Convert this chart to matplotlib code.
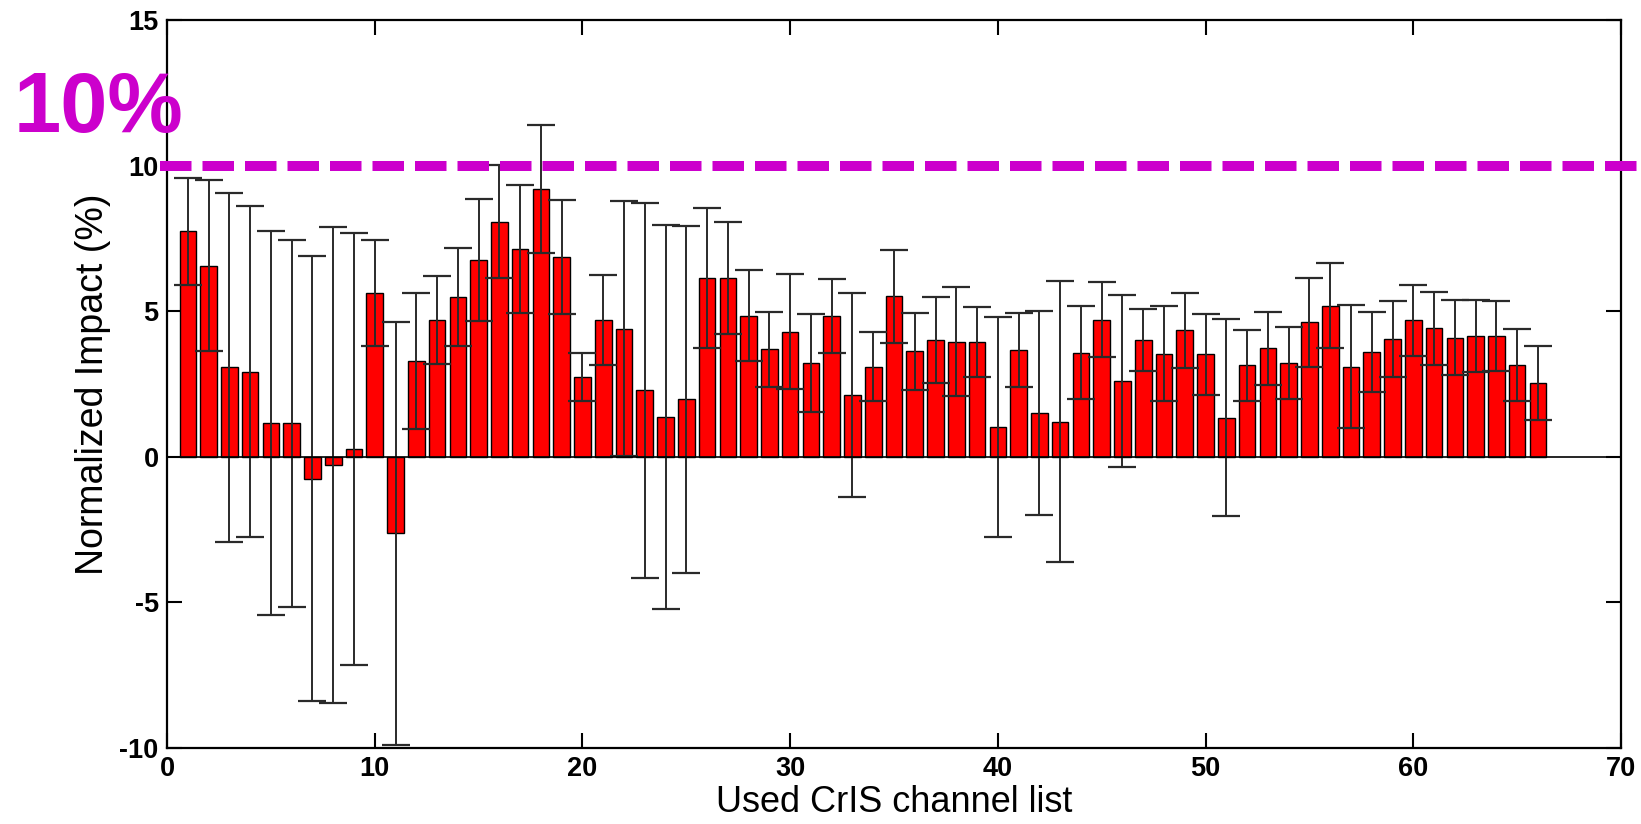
import numpy as np
import matplotlib
matplotlib.use('Agg')
import matplotlib.pyplot as plt
import matplotlib.transforms as mtransforms

plt.rcParams['font.family'] = ['Liberation Sans', 'DejaVu Sans']
plt.rcParams['axes.unicode_minus'] = False

# normalized impact per used CrIS channel
channels = np.arange(1, 67)
impact = [7.74, 6.57, 3.07, 2.92, 1.16, 1.16, -0.75, -0.29, 0.27, 5.63,
          -2.63, 3.28, 4.70, 5.48, 6.76, 8.08, 7.13, 9.21, 6.86, 2.75,
          4.70, 4.40, 2.28, 1.36, 1.97, 6.14, 6.14, 4.85, 3.69, 4.30,
          3.22, 4.82, 2.12, 3.10, 5.51, 3.62, 4.02, 3.96, 3.95, 1.02,
          3.68, 1.50, 1.21, 3.57, 4.71, 2.59, 4.01, 3.54, 4.34, 3.53,
          1.34, 3.15, 3.72, 3.21, 4.62, 5.19, 3.10, 3.61, 4.04, 4.69,
          4.42, 4.09, 4.15, 4.15, 3.15, 2.54]
err = [1.85, 2.95, 6.00, 5.68, 6.60, 6.30, 7.63, 8.17, 7.42, 1.81,
       7.27, 2.33, 1.52, 1.68, 2.10, 1.93, 2.20, 2.20, 1.96, 0.83,
       1.53, 4.37, 6.45, 6.60, 5.97, 2.40, 1.93, 1.57, 1.30, 1.97,
       1.67, 1.27, 3.50, 1.20, 1.59, 1.33, 1.47, 1.87, 1.20, 3.78,
       1.27, 3.50, 4.83, 1.60, 1.28, 2.95, 1.05, 1.63, 1.30, 1.39,
       3.38, 1.22, 1.25, 1.24, 1.52, 1.46, 2.10, 1.37, 1.30, 1.22,
       1.25, 1.28, 1.25, 1.20, 1.24, 1.27]
threshold = 10

fig = plt.figure(figsize=(16.41, 8.24), dpi=100)
ax = fig.add_axes([0.1018, 0.0922, 0.886, 0.8835])

ax.bar(channels, impact, width=0.8, color='#ff0000', edgecolor='black',
       linewidth=1.0, zorder=2)
ax.errorbar(channels, impact, yerr=err, fmt='none', ecolor='#2a2a2a',
            elinewidth=1.4, capsize=10, capthick=1.6, zorder=3)
ax.axhline(0, color='black', lw=1.2, zorder=4)

ax.set_xlim(0, 70)
ax.set_ylim(-10, 15)
ax.set_xticks(np.arange(0, 71, 10))
ax.set_yticks(np.arange(-10, 16, 5))
ax.tick_params(direction='in', length=11, width=1.5, top=True, right=True,
               labelsize=19.5, pad=6)
for lab in ax.get_xticklabels() + ax.get_yticklabels():
    lab.set_fontweight('bold')
for sp in ax.spines.values():
    sp.set_linewidth(1.6)

ax.set_xlabel('Used CrIS channel list', fontsize=26, labelpad=2)
ax.set_ylabel('Normalized Impact (%)', fontsize=27, labelpad=6)

# 10% threshold line, runs past the right edge of the axes
trans = mtransforms.blended_transform_factory(fig.transFigure, ax.transData)
ax.plot([0.0975, 1.0], [threshold, threshold], transform=trans, color='#cc00cc',
        lw=7.2, dashes=(3.15, 1.1), clip_on=False, zorder=5)
fig.text(0.008, 1 - 132/824, '10%', color='#cc00cc', fontsize=61,
         fontweight='bold', va='baseline', ha='left')

fig.savefig('out.png', dpi=100)
